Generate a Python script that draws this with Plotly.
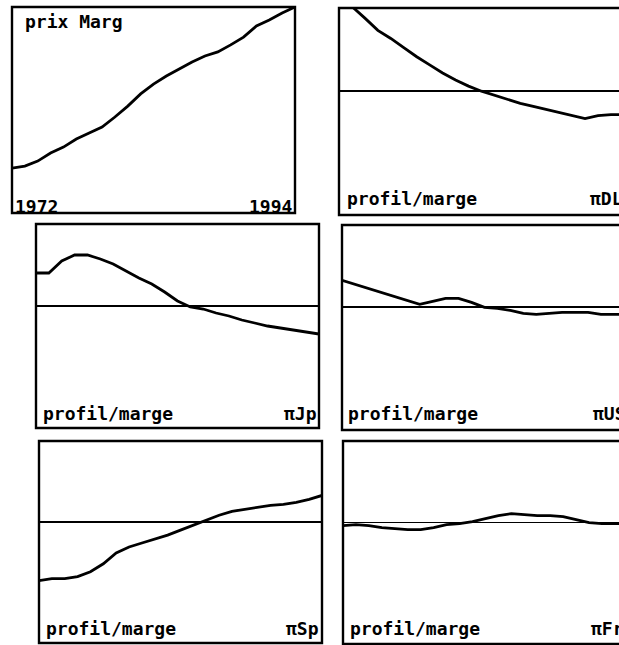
import plotly.graph_objects as go

# ---------------- data ----------------
YEARS = list(range(1972, 1995))

PRIX_MARG = [21.8, 22.8, 25.2, 29.1, 32.0, 35.9, 38.8, 41.7, 46.6, 51.9, 57.8, 62.6,
             66.5, 69.9, 73.3, 76.2, 78.2, 81.6, 85.4, 90.8, 93.7, 97.1, 100.0]

PI_DL = [0.95, 0.83, 0.72, 0.60, 0.52, 0.43, 0.34, 0.26, 0.18, 0.11, 0.05, 0.00,
         -0.04, -0.08, -0.12, -0.15, -0.18, -0.21, -0.24, -0.27, -0.24, -0.23, -0.23]

PI_JP = [0.33, 0.33, 0.45, 0.51, 0.51, 0.47, 0.42, 0.35, 0.28, 0.22, 0.14, 0.05,
         -0.01, -0.03, -0.07, -0.10, -0.14, -0.17, -0.20, -0.22, -0.24, -0.26, -0.28]

PI_US = [0.27, 0.23, 0.19, 0.15, 0.11, 0.07, 0.03, 0.06, 0.09, 0.09, 0.05, 0.00,
         -0.01, -0.03, -0.06, -0.07, -0.06, -0.05, -0.05, -0.05, -0.07, -0.07, -0.07]

PI_SP = [-0.59, -0.57, -0.57, -0.55, -0.50, -0.42, -0.31, -0.25, -0.21, -0.17, -0.13, -0.08,
         -0.03, 0.02, 0.07, 0.11, 0.13, 0.15, 0.17, 0.18, 0.20, 0.23, 0.27]

PI_FR = [-0.03, -0.02, -0.03, -0.05, -0.06, -0.07, -0.07, -0.05, -0.02, -0.01, 0.01, 0.04,
         0.07, 0.09, 0.08, 0.07, 0.07, 0.06, 0.03, 0.00, -0.01, -0.01, -0.01]

LEFT_LABELS = ["1972", "profil/marge", "profil/marge", "profil/marge", "profil/marge", "profil/marge"]
RIGHT_LABELS = ["1994", "πDL", "πJp", "πUS", "πSp", "πFr"]

# ---------------- layout ----------------
W, H = 619, 645
PX_PER_YEAR = 12.95
Y_RANGE = [-1.22, 0.82]

# panel boxes in window pixels (x0, top, x1, bottom) and label placement
panels = [
    dict(series=PRIX_MARG, box=(12, 7, 295, 213), lx=14, rx=294, base=213, zero=False),
    dict(series=PI_DL, box=(339, 8, 624, 215), lx=346, rx=624, base=205, zero=True),
    dict(series=PI_JP, box=(36, 224, 319, 428), lx=42, rx=318, base=420, zero=True),
    dict(series=PI_US, box=(342, 225, 627, 430), lx=347, rx=627, base=420, zero=True),
    dict(series=PI_SP, box=(39, 441, 322, 643), lx=45, rx=320, base=635, zero=True),
    dict(series=PI_FR, box=(343, 441, 628, 644), lx=349, rx=625, base=635, zero=True),
]

FONT = dict(family="DejaVu Sans Mono", size=18, color="black", weight="bold")
DESC = 5  # distance from baseline to bottom of annotation box

fig = go.Figure()
layout = dict(
    width=W, height=H, margin=dict(l=0, r=0, t=0, b=0),
    paper_bgcolor="white", plot_bgcolor="white", showlegend=False,
    shapes=[], annotations=[],
)


def px(xw):
    return xw / W


def py(yw):
    return 1 - yw / H


for i, p in enumerate(panels):
    n = "" if i == 0 else str(i + 1)
    x0, y0, x1, y1 = p["box"]
    dom_x = [max(0.0, px(x0)), min(1.0, px(x1))]
    dom_y = [max(0.0, py(y1)), min(1.0, py(y0))]
    vis_w = min(x1, W) - x0
    xr = [YEARS[0], YEARS[0] + vis_w / PX_PER_YEAR] if x1 > W else [YEARS[0], YEARS[-1]]
    yr = [0, 100] if i == 0 else Y_RANGE

    fig.add_trace(go.Scatter(
        x=YEARS, y=p["series"], mode="lines",
        line=dict(color="black", width=2.8),
        xaxis="x" + n, yaxis="y" + n, hoverinfo="skip",
    ))

    layout["xaxis" + n] = dict(
        domain=dom_x, range=xr, anchor="y" + n, showgrid=False, zeroline=False,
        showticklabels=False, ticks="", showline=False, fixedrange=True,
    )
    layout["yaxis" + n] = dict(
        domain=dom_y, range=yr, anchor="x" + n, showgrid=False,
        zeroline=p["zero"], zerolinecolor="black", zerolinewidth=1.8,
        showticklabels=False, ticks="", showline=False, fixedrange=True,
    )

    layout["shapes"].append(dict(
        type="rect", xref="paper", yref="paper",
        x0=px(x0), x1=px(x1), y0=py(y1), y1=py(y0),
        line=dict(color="black", width=2.4), layer="above",
    ))

    layout["annotations"].append(dict(
        xref="paper", yref="paper", x=px(p["lx"]), y=py(p["base"] + DESC),
        xanchor="left", yanchor="bottom", text=LEFT_LABELS[i], showarrow=False,
        font=FONT, borderpad=0,
    ))
    layout["annotations"].append(dict(
        xref="paper", yref="paper", x=px(p["rx"]), y=py(p["base"] + DESC),
        xanchor="right", yanchor="bottom", text=RIGHT_LABELS[i], showarrow=False,
        font=FONT, borderpad=0,
    ))

# title of first panel
layout["annotations"].append(dict(
    xref="paper", yref="paper", x=px(24), y=py(28 + DESC),
    xanchor="left", yanchor="bottom", text="prix Marg", showarrow=False,
    font=FONT, borderpad=0,
))

fig.update_layout(**layout)
fig.write_html(
    "out.html",
    config={"displayModeBar": False, "staticPlot": True},
    post_script="document.body.style.margin='0';document.body.style.overflow='hidden';",
)
